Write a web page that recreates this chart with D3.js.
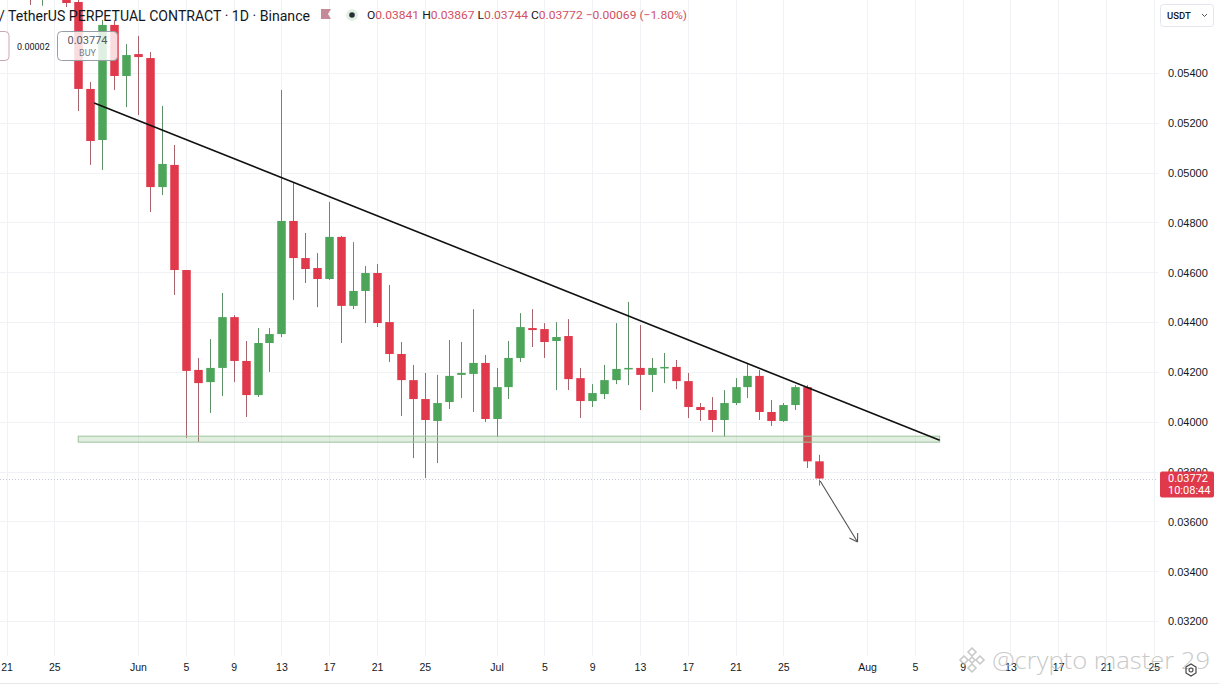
<!DOCTYPE html>
<html>
<head>
<meta charset="utf-8">
<script src="https://cdn.jsdelivr.net/npm/d3@7"></script>
<style>
  html, body { margin: 0; padding: 0; background: #ffffff; }
  svg { display: block; font-family: Roboto, "Open Sans", "DejaVu Sans", sans-serif; }
</style>
</head>
<body>
<svg id="chart" width="1219" height="685"></svg>
<script>
// ---------------- DATA ----------------
const dates = [
  "2023-05-23","2023-05-24","2023-05-25","2023-05-26","2023-05-27","2023-05-28","2023-05-29","2023-05-30","2023-05-31",
  "2023-06-01","2023-06-02","2023-06-03","2023-06-04","2023-06-05","2023-06-06","2023-06-07","2023-06-08","2023-06-09","2023-06-10",
  "2023-06-11","2023-06-12","2023-06-13","2023-06-14","2023-06-15","2023-06-16","2023-06-17","2023-06-18","2023-06-19","2023-06-20",
  "2023-06-21","2023-06-22","2023-06-23","2023-06-24","2023-06-25","2023-06-26","2023-06-27","2023-06-28","2023-06-29","2023-06-30",
  "2023-07-01","2023-07-02","2023-07-03","2023-07-04","2023-07-05","2023-07-06","2023-07-07","2023-07-08","2023-07-09","2023-07-10",
  "2023-07-11","2023-07-12","2023-07-13","2023-07-14","2023-07-15","2023-07-16","2023-07-17","2023-07-18","2023-07-19","2023-07-20",
  "2023-07-21","2023-07-22","2023-07-23","2023-07-24","2023-07-25","2023-07-26","2023-07-27","2023-07-28"
];
const opens = [
  0.05900,0.05850,0.05900,0.05920,0.05685,0.05336,0.05131,0.05593,0.05388,
  0.05476,0.05460,0.04942,0.05031,0.04609,0.04208,0.04159,0.04216,0.04420,0.04244,
  0.04107,0.04316,0.04352,0.04806,0.04657,0.04617,0.04573,0.04742,0.04465,0.04525,
  0.04597,0.04400,0.04272,0.04167,0.04091,0.04003,0.04079,0.04188,0.04192,0.04236,
  0.04011,0.04139,0.04256,0.04376,0.04372,0.04324,0.04344,0.04175,0.04083,0.04111,
  0.04167,0.04212,0.04216,0.04188,0.04216,0.04220,0.04163,0.04059,0.04047,0.04007,
  0.04075,0.04139,0.04184,0.04039,0.04003,0.04067,0.04139,0.03841
];
const highs = [
  0.06000,0.05950,0.05980,0.05970,0.05700,0.05364,0.05613,0.05613,0.05516,
  0.05549,0.05484,0.05268,0.05111,0.04609,0.04256,0.04332,0.04517,0.04428,0.04324,
  0.04376,0.04376,0.05332,0.04958,0.04758,0.04677,0.04882,0.04746,0.04721,0.04625,
  0.04633,0.04549,0.04320,0.04228,0.04196,0.04188,0.04328,0.04320,0.04452,0.04268,
  0.04216,0.04324,0.04436,0.04452,0.04396,0.04400,0.04412,0.04216,0.04151,0.04228,
  0.04396,0.04481,0.04388,0.04256,0.04276,0.04248,0.04196,0.04075,0.04099,0.04127,
  0.04175,0.04232,0.04208,0.04087,0.04075,0.04147,0.04147,0.03867
];
const lows = [
  0.05673,0.05670,0.05720,0.05665,0.05247,0.05031,0.05011,0.05332,0.05263,
  0.05231,0.04842,0.04910,0.04509,0.03935,0.03919,0.04035,0.04103,0.04159,0.04019,
  0.04099,0.04200,0.04340,0.04489,0.04557,0.04460,0.04569,0.04316,0.04452,0.04396,
  0.04380,0.04240,0.04023,0.03854,0.03774,0.03834,0.04051,0.04095,0.04039,0.03999,
  0.03939,0.04091,0.04240,0.04300,0.04256,0.04127,0.04127,0.04015,0.04059,0.04091,
  0.04151,0.04147,0.04047,0.04119,0.04155,0.04131,0.04015,0.04003,0.03959,0.03939,
  0.04067,0.04095,0.04007,0.03983,0.03999,0.04047,0.03814,0.03744
];
const closes = [
  0.05850,0.05900,0.05920,0.05681,0.05336,0.05127,0.05593,0.05388,0.05472,
  0.05464,0.04942,0.05035,0.04609,0.04204,0.04155,0.04216,0.04420,0.04244,0.04107,
  0.04316,0.04352,0.04806,0.04657,0.04613,0.04573,0.04742,0.04465,0.04525,0.04597,
  0.04396,0.04272,0.04167,0.04091,0.04007,0.04075,0.04184,0.04196,0.04236,0.04011,
  0.04139,0.04256,0.04380,0.04368,0.04320,0.04340,0.04171,0.04083,0.04115,0.04167,
  0.04212,0.04216,0.04188,0.04216,0.04220,0.04163,0.04059,0.04047,0.04007,0.04075,
  0.04139,0.04184,0.04039,0.04003,0.04067,0.04139,0.03841,0.03772
];

const priceTicks = [0.032,0.034,0.036,0.038,0.040,0.042,0.044,0.046,0.048,0.050,0.052,0.054];
const dateTickValues = [
  "2023-05-21","2023-05-25","2023-06-01","2023-06-05","2023-06-09","2023-06-13","2023-06-17","2023-06-21","2023-06-25",
  "2023-07-01","2023-07-05","2023-07-09","2023-07-13","2023-07-17","2023-07-21","2023-07-25",
  "2023-08-01","2023-08-05","2023-08-09","2023-08-13","2023-08-17","2023-08-21","2023-08-25"
];
const dateTickLabels = ["21","25","Jun","5","9","13","17","21","25","Jul","5","9","13","17","21","25","Aug","5","9","13","17","21","25"];

// drawings
const trendDates = ["2023-05-28T08:00:00Z","2023-08-07T02:00:00Z"];
const trendPrices = [0.05280, 0.03926];
const zoneDates = ["2023-05-27T00:00:00Z","2023-08-07T02:00:00Z"];
const zonePrices = [0.03918, 0.03942];
const arrowDates = ["2023-07-28T02:00:00Z","2023-07-31T05:00:00Z"];
const arrowPrices = [0.03762, 0.03517];

const lastPrice = 0.03772;
const headerTitle = "/ TetherUS PERPETUAL CONTRACT · 1D · Binance";
const ohlcLabels = ["O","H","L","C"];
const ohlcValues = ["0.03841","0.03867","0.03744","0.03772"];
const changeText = "−0.00069 (−1.80%)";
const spreadText = "0.00002";
const buyPrice = "0.03774";
const countdown = "10:08:44";

// ---------------- SCALES ----------------
const W = 1219, H = 685;
const plotRight = 1158, plotBottom = 656;
const parse = s => new Date(s.length === 10 ? s + "T00:00:00Z" : s);
const x = d3.scaleUtc()
  .domain([parse("2023-06-01"), parse("2023-08-01")])
  .range([138, 867]);
const y = d3.scaleLinear().domain([0.032, 0.054]).range([621, 73]);

const RED = "#e0394b", GREEN = "#4da55a";
const svg = d3.select("#chart");
svg.append("rect").attr("width", W).attr("height", H).attr("fill", "#ffffff");

svg.append("defs").append("clipPath").attr("id", "plotClip")
  .append("rect").attr("x", 0).attr("y", 0).attr("width", plotRight).attr("height", plotBottom);

// grid
const grid = svg.append("g");
grid.selectAll("line.h").data(priceTicks).join("line")
  .attr("x1", 0).attr("x2", plotRight)
  .attr("y1", d => Math.round(y(d)) + 0.5).attr("y2", d => Math.round(y(d)) + 0.5)
  .attr("stroke", "#f0f2f6").attr("stroke-width", 1);
grid.selectAll("line.v").data(dateTickValues).join("line")
  .attr("x1", d => Math.round(x(parse(d))) + 0.5).attr("x2", d => Math.round(x(parse(d))) + 0.5)
  .attr("y1", 0).attr("y2", plotBottom)
  .attr("stroke", "#f0f2f6").attr("stroke-width", 1);

// candles
const candles = dates.map((d, i) => ({ date: parse(d), o: opens[i], h: highs[i], l: lows[i], c: closes[i] }));
const plot = svg.append("g").attr("clip-path", "url(#plotClip)");
const cg = plot.selectAll("g.candle").data(candles).join("g");
cg.append("line")
  .attr("x1", d => Math.round(x(d.date)) + 0.5).attr("x2", d => Math.round(x(d.date)) + 0.5)
  .attr("y1", d => y(d.h)).attr("y2", d => y(d.l))
  .attr("stroke", d => d.c >= d.o ? "#5f8f66" : "#a8646c").attr("stroke-width", 1);
const bodyW = 8.5;
cg.append("rect")
  .attr("x", d => Math.round(x(d.date)) + 0.5 - bodyW / 2)
  .attr("width", bodyW)
  .attr("y", d => y(Math.max(d.o, d.c)))
  .attr("height", d => Math.max(1.5, Math.abs(y(d.o) - y(d.c))))
  .attr("fill", d => d.c >= d.o ? GREEN : RED);

// support zone
plot.append("rect")
  .attr("x", x(parse(zoneDates[0]))).attr("width", x(parse(zoneDates[1])) - x(parse(zoneDates[0])))
  .attr("y", y(zonePrices[1])).attr("height", y(zonePrices[0]) - y(zonePrices[1]))
  .attr("fill", "rgba(120,180,120,0.22)").attr("stroke", "#9cc29c").attr("stroke-width", 1);

// trend line
plot.append("line")
  .attr("x1", x(parse(trendDates[0]))).attr("y1", y(trendPrices[0]))
  .attr("x2", x(parse(trendDates[1]))).attr("y2", y(trendPrices[1]))
  .attr("stroke", "#111111").attr("stroke-width", 1.6);

// arrow
const ax1 = x(parse(arrowDates[0])), ay1 = y(arrowPrices[0]);
const ax2 = x(parse(arrowDates[1])), ay2 = y(arrowPrices[1]);
plot.append("line").attr("x1", ax1).attr("y1", ay1).attr("x2", ax2).attr("y2", ay2)
  .attr("stroke", "#555").attr("stroke-width", 1.1);
const ang = Math.atan2(ay2 - ay1, ax2 - ax1);
[Math.PI * 0.82, -Math.PI * 0.82].forEach(da => {
  plot.append("line").attr("x1", ax2).attr("y1", ay2)
    .attr("x2", ax2 + 9 * Math.cos(ang + da)).attr("y2", ay2 + 9 * Math.sin(ang + da))
    .attr("stroke", "#555").attr("stroke-width", 1.1);
});

// last price dotted line
plot.append("line")
  .attr("x1", 0).attr("x2", plotRight)
  .attr("y1", Math.round(y(lastPrice)) + 0.5).attr("y2", Math.round(y(lastPrice)) + 0.5)
  .attr("stroke", "#c8cbd2").attr("stroke-width", 1).attr("stroke-dasharray", "1,2");

// right price axis
const yAxis = d3.axisRight(y).tickValues(priceTicks).tickFormat(d3.format(".5f")).tickSize(0).tickPadding(0);
const yg = svg.append("g").attr("transform", `translate(${plotRight + 10},0)`).call(yAxis);
yg.select(".domain").remove();
yg.selectAll("text").attr("fill", "#131722").style("font-size", "11px").attr("dy", "0.35em");

// last price label
svg.append("rect").attr("x", plotRight + 2).attr("y", y(lastPrice) - 7).attr("width", 54).attr("height", 26)
  .attr("rx", 2).attr("fill", RED);
svg.append("text").attr("x", plotRight + 10).attr("y", y(lastPrice) + 3.5).text(d3.format(".5f")(lastPrice))
  .attr("fill", "#fff").style("font-size", "11px");
svg.append("text").attr("x", plotRight + 10).attr("y", y(lastPrice) + 15).text(countdown)
  .attr("fill", "#fff").style("font-size", "11px");

// USDT selector
svg.append("rect").attr("x", 1160.5).attr("y", 4.5).attr("width", 53).attr("height", 22).attr("rx", 3)
  .attr("fill", "#fff").attr("stroke", "#e3e6ec");
svg.append("text").attr("x", 1167).attr("y", 19).text("USDT").attr("fill", "#131722")
  .style("font-size", "9.5px").style("font-weight", "500");
svg.append("path").attr("d", "M1202,14 l2.5,2.5 l2.5,-2.5").attr("fill", "none").attr("stroke", "#555").attr("stroke-width", 1);

// bottom time axis
const xAxis = d3.axisBottom(x).tickValues(dateTickValues.map(parse))
  .tickFormat((d, i) => dateTickLabels[i]).tickSize(0).tickPadding(0);
const xg = svg.append("g").attr("transform", `translate(0,${plotBottom + 11})`).call(xAxis);
xg.select(".domain").remove();
xg.selectAll("text").attr("fill", "#131722").style("font-size", "10.5px").attr("dy", "0.35em");
svg.append("line").attr("x1", 0).attr("x2", W).attr("y1", 683.5).attr("y2", 683.5).attr("stroke", "#e6e8ec");

// watermark
const wm = svg.append("g").attr("opacity", 0.75);
const lg = wm.append("g").attr("transform", "translate(972,660)").attr("fill", "none").attr("stroke", "#b5b5b5").attr("stroke-width", 1.5);
lg.append("path").attr("d", "M0,-12 L4,-8 L0,-4 L-4,-8 Z");
lg.append("path").attr("d", "M-8,-4 L-4,0 L-8,4 L-12,0 Z");
lg.append("path").attr("d", "M8,-4 L12,0 L8,4 L4,0 Z");
lg.append("path").attr("d", "M0,4 L4,8 L0,12 L-4,8 Z");
lg.append("path").attr("d", "M0,-3 L3,0 L0,3 L-3,0 Z");
wm.append("text").attr("x", 992).attr("y", 669).text("@crypto master 29")
  .attr("fill", "#b8b8b8").style("font-size", "24px").style("font-family", "'Open Sans', sans-serif")
  .style("font-weight", "300").attr("textLength", 218).attr("lengthAdjust", "spacingAndGlyphs");
svg.append("path").attr("d", "M1186,667 l5,-3 l5,3 l0,6 l-5,3 l-5,-3 Z M1191,668 a2,2 0 1,0 0.01,0")
  .attr("fill", "none").attr("stroke", "#444").attr("stroke-width", 1.2);

// header legend
svg.append("text").attr("x", -1).attr("y", 21).text(headerTitle)
  .attr("fill", "#131722").style("font-size", "14px").attr("textLength", 311).attr("lengthAdjust", "spacingAndGlyphs");
svg.append("path").attr("d", "M321,9 h10 l-3,5 l3,5 h-10 Z").attr("fill", "#c48a98");
svg.append("circle").attr("cx", 352).attr("cy", 15).attr("r", 6).attr("fill", "#e3f1e4");
svg.append("circle").attr("cx", 352).attr("cy", 15).attr("r", 2.8).attr("fill", "#2a2e39");
const ohlc = svg.append("text").attr("x", 367).attr("y", 19).style("font-size", "11.5px")
  .attr("textLength", 320).attr("lengthAdjust", "spacingAndGlyphs");
ohlcLabels.forEach((l, i) => {
  ohlc.append("tspan").text((i ? " " : "") + l).attr("fill", "#131722");
  ohlc.append("tspan").text(ohlcValues[i]).attr("fill", "#d2505f");
});
ohlc.append("tspan").text(" " + changeText).attr("fill", "#d2505f");

// order buttons
svg.append("rect").attr("x", -8).attr("y", 31.5).attr("width", 17).attr("height", 29).attr("rx", 4)
  .attr("fill", "rgba(255,255,255,0.85)").attr("stroke", "#c9a9ae");
svg.append("text").attr("x", 17).attr("y", 50).text(spreadText).attr("fill", "#131722").style("font-size", "9px");
svg.append("rect").attr("x", 57.5).attr("y", 31.5).attr("width", 60).attr("height", 29).attr("rx", 4)
  .attr("fill", "rgba(255,255,255,0.82)").attr("stroke", "#9a9da4");
svg.append("text").attr("x", 87.5).attr("y", 44).attr("text-anchor", "middle").text(buyPrice)
  .attr("fill", "#555a63").style("font-size", "11px");
svg.append("text").attr("x", 87.5).attr("y", 56).attr("text-anchor", "middle").text("BUY")
  .attr("fill", "#7a7e86").style("font-size", "9px");
</script>
</body>
</html>
